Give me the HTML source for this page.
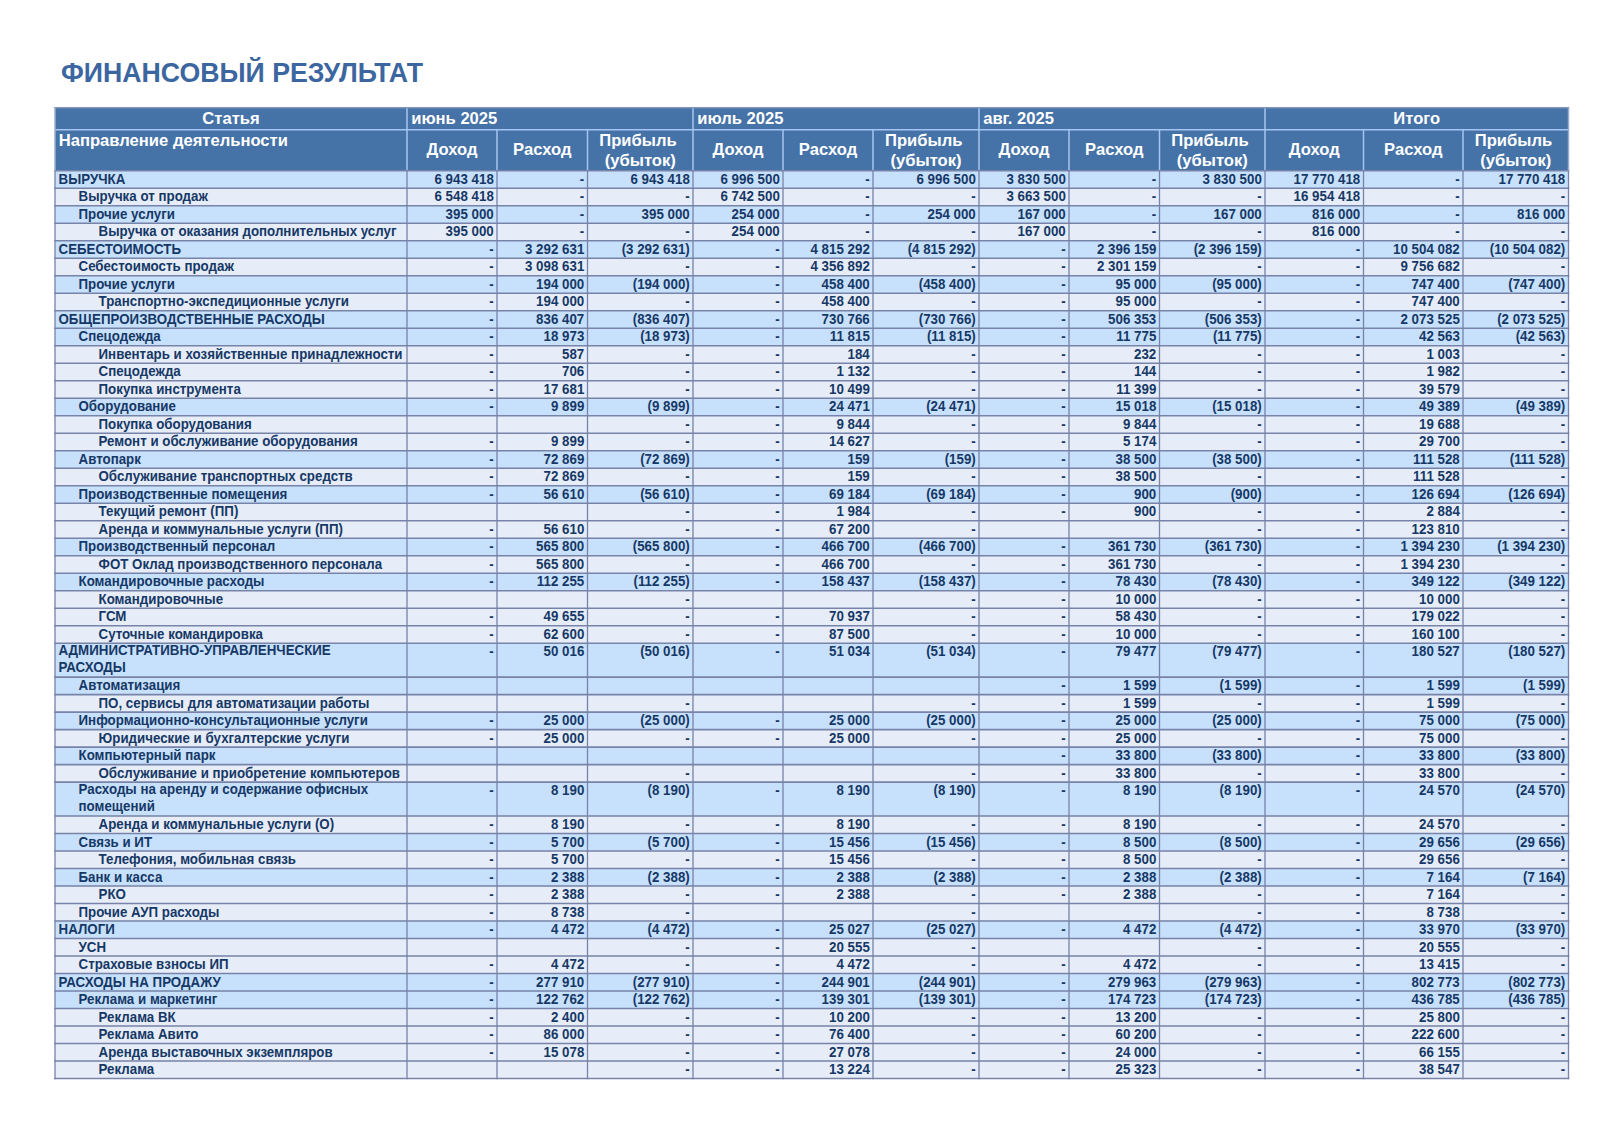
<!DOCTYPE html><html><head><meta charset="utf-8"><style>
html,body{margin:0;padding:0;background:#fff;}
body{width:1622px;height:1142px;position:relative;overflow:hidden;font-family:"Liberation Sans",sans-serif;font-weight:bold;}
.a{position:absolute;}
.t{position:absolute;white-space:nowrap;color:#163866;font-size:13.33px;line-height:17.5px;transform:scaleY(1.03);transform-origin:0 13.4px;}
.r{text-align:right;}
.h{position:absolute;white-space:nowrap;color:#fff;font-size:16.6px;line-height:19px;}

</style></head><body>
<div class="a" style="left:61px;top:55.9px;font-size:26.7px;line-height:34px;color:#3b66a0;white-space:nowrap;transform:scaleY(1.05);transform-origin:0 26.25px">ФИНАНСОВЫЙ РЕЗУЛЬТАТ</div>
<svg class="a" style="left:0;top:0" width="1622" height="1142" viewBox="0 0 1622 1142" shape-rendering="geometricPrecision"><rect x="55" y="107.7" width="1513.5" height="63" fill="#4572a7"/><rect x="55" y="170.7" width="1513.5" height="17.5" fill="#c7e0fc"/><rect x="55" y="188.2" width="1513.5" height="17.5" fill="#e6edf8"/><rect x="55" y="205.7" width="1513.5" height="17.5" fill="#c7e0fc"/><rect x="55" y="223.2" width="1513.5" height="17.5" fill="#e6edf8"/><rect x="55" y="240.7" width="1513.5" height="17.5" fill="#c7e0fc"/><rect x="55" y="258.2" width="1513.5" height="17.5" fill="#e6edf8"/><rect x="55" y="275.7" width="1513.5" height="17.5" fill="#c7e0fc"/><rect x="55" y="293.2" width="1513.5" height="17.5" fill="#e6edf8"/><rect x="55" y="310.7" width="1513.5" height="17.5" fill="#c7e0fc"/><rect x="55" y="328.2" width="1513.5" height="17.5" fill="#c7e0fc"/><rect x="55" y="345.7" width="1513.5" height="17.5" fill="#e6edf8"/><rect x="55" y="363.2" width="1513.5" height="17.5" fill="#e6edf8"/><rect x="55" y="380.7" width="1513.5" height="17.5" fill="#e6edf8"/><rect x="55" y="398.2" width="1513.5" height="17.5" fill="#c7e0fc"/><rect x="55" y="415.7" width="1513.5" height="17.5" fill="#e6edf8"/><rect x="55" y="433.2" width="1513.5" height="17.5" fill="#e6edf8"/><rect x="55" y="450.7" width="1513.5" height="17.5" fill="#c7e0fc"/><rect x="55" y="468.2" width="1513.5" height="17.5" fill="#e6edf8"/><rect x="55" y="485.7" width="1513.5" height="17.5" fill="#c7e0fc"/><rect x="55" y="503.2" width="1513.5" height="17.5" fill="#e6edf8"/><rect x="55" y="520.7" width="1513.5" height="17.5" fill="#e6edf8"/><rect x="55" y="538.2" width="1513.5" height="17.5" fill="#c7e0fc"/><rect x="55" y="555.7" width="1513.5" height="17.5" fill="#e6edf8"/><rect x="55" y="573.2" width="1513.5" height="17.5" fill="#c7e0fc"/><rect x="55" y="590.7" width="1513.5" height="17.5" fill="#e6edf8"/><rect x="55" y="608.2" width="1513.5" height="17.5" fill="#e6edf8"/><rect x="55" y="625.7" width="1513.5" height="17.5" fill="#e6edf8"/><rect x="55" y="643.2" width="1513.5" height="33.9" fill="#c7e0fc"/><rect x="55" y="677.1" width="1513.5" height="17.5" fill="#c7e0fc"/><rect x="55" y="694.6" width="1513.5" height="17.5" fill="#e6edf8"/><rect x="55" y="712.1" width="1513.5" height="17.5" fill="#c7e0fc"/><rect x="55" y="729.6" width="1513.5" height="17.5" fill="#e6edf8"/><rect x="55" y="747.1" width="1513.5" height="17.5" fill="#c7e0fc"/><rect x="55" y="764.6" width="1513.5" height="17.5" fill="#e6edf8"/><rect x="55" y="782.1" width="1513.5" height="33.9" fill="#c7e0fc"/><rect x="55" y="816" width="1513.5" height="17.5" fill="#e6edf8"/><rect x="55" y="833.5" width="1513.5" height="17.5" fill="#c7e0fc"/><rect x="55" y="851" width="1513.5" height="17.5" fill="#e6edf8"/><rect x="55" y="868.5" width="1513.5" height="17.5" fill="#c7e0fc"/><rect x="55" y="886" width="1513.5" height="17.5" fill="#e6edf8"/><rect x="55" y="903.5" width="1513.5" height="17.5" fill="#e6edf8"/><rect x="55" y="921" width="1513.5" height="17.5" fill="#c7e0fc"/><rect x="55" y="938.5" width="1513.5" height="17.5" fill="#e6edf8"/><rect x="55" y="956" width="1513.5" height="17.5" fill="#e6edf8"/><rect x="55" y="973.5" width="1513.5" height="17.5" fill="#c7e0fc"/><rect x="55" y="991" width="1513.5" height="17.5" fill="#c7e0fc"/><rect x="55" y="1008.5" width="1513.5" height="17.5" fill="#e6edf8"/><rect x="55" y="1026" width="1513.5" height="17.5" fill="#e6edf8"/><rect x="55" y="1043.5" width="1513.5" height="17.5" fill="#e6edf8"/><rect x="55" y="1061" width="1513.5" height="17.5" fill="#e6edf8"/><path d="M55 129.7H1568.5M407 107.7V129.7M693 107.7V129.7M979 107.7V129.7M1265 107.7V129.7M407 129.7V170.7M497 129.7V170.7M587.5 129.7V170.7M693 129.7V170.7M783 129.7V170.7M873 129.7V170.7M979 129.7V170.7M1069 129.7V170.7M1159.5 129.7V170.7M1265 129.7V170.7M1363.5 129.7V170.7M1463 129.7V170.7" stroke="#a6c5f2" stroke-width="1.5" fill="none"/><path d="M54.2 170.7H1569.3M54.2 188.2H1569.3M54.2 205.7H1569.3M54.2 223.2H1569.3M54.2 240.7H1569.3M54.2 258.2H1569.3M54.2 275.7H1569.3M54.2 293.2H1569.3M54.2 310.7H1569.3M54.2 328.2H1569.3M54.2 345.7H1569.3M54.2 363.2H1569.3M54.2 380.7H1569.3M54.2 398.2H1569.3M54.2 415.7H1569.3M54.2 433.2H1569.3M54.2 450.7H1569.3M54.2 468.2H1569.3M54.2 485.7H1569.3M54.2 503.2H1569.3M54.2 520.7H1569.3M54.2 538.2H1569.3M54.2 555.7H1569.3M54.2 573.2H1569.3M54.2 590.7H1569.3M54.2 608.2H1569.3M54.2 625.7H1569.3M54.2 643.2H1569.3M54.2 677.1H1569.3M54.2 694.6H1569.3M54.2 712.1H1569.3M54.2 729.6H1569.3M54.2 747.1H1569.3M54.2 764.6H1569.3M54.2 782.1H1569.3M54.2 816H1569.3M54.2 833.5H1569.3M54.2 851H1569.3M54.2 868.5H1569.3M54.2 886H1569.3M54.2 903.5H1569.3M54.2 921H1569.3M54.2 938.5H1569.3M54.2 956H1569.3M54.2 973.5H1569.3M54.2 991H1569.3M54.2 1008.5H1569.3M54.2 1026H1569.3M54.2 1043.5H1569.3M54.2 1061H1569.3M54.2 1078.5H1569.3" stroke="#7783a8" stroke-width="1.6" fill="none"/><path d="M55 170.7V1079.3M407 170.7V1079.3M497 170.7V1079.3M587.5 170.7V1079.3M693 170.7V1079.3M783 170.7V1079.3M873 170.7V1079.3M979 170.7V1079.3M1069 170.7V1079.3M1159.5 170.7V1079.3M1265 170.7V1079.3M1363.5 170.7V1079.3M1463 170.7V1079.3M1568.5 170.7V1079.3" stroke="#7783a8" stroke-width="1.3" fill="none"/><path d="M54.3 107.7H1569.2" stroke="#7f93b8" stroke-width="1.5" fill="none"/><path d="M55 107.7V170.7M1568.5 107.7V170.7" stroke="#9aaed0" stroke-width="1.5" fill="none"/></svg>
<div class="h" style="left:55px;top:109.2px;width:352px;text-align:center">Статья</div>
<div class="h" style="left:411.2px;top:109.2px">июнь 2025</div>
<div class="h" style="left:697.2px;top:109.2px">июль 2025</div>
<div class="h" style="left:983.2px;top:109.2px">авг. 2025</div>
<div class="h" style="left:1265px;top:109.2px;width:303.5px;text-align:center">Итого</div>
<div class="h" style="left:58.7px;top:131.2px">Направление деятельности</div>
<div class="h" style="left:407px;top:140.1px;width:90px;text-align:center">Доход</div>
<div class="h" style="left:497px;top:140.1px;width:90.5px;text-align:center">Расход</div>
<div class="h" style="left:587.5px;top:131.1px;width:105.5px;text-align:center;line-height:19.8px">Прибыль&nbsp;<br>(убыток)</div>
<div class="h" style="left:693px;top:140.1px;width:90px;text-align:center">Доход</div>
<div class="h" style="left:783px;top:140.1px;width:90px;text-align:center">Расход</div>
<div class="h" style="left:873px;top:131.1px;width:106px;text-align:center;line-height:19.8px">Прибыль&nbsp;<br>(убыток)</div>
<div class="h" style="left:979px;top:140.1px;width:90px;text-align:center">Доход</div>
<div class="h" style="left:1069px;top:140.1px;width:90.5px;text-align:center">Расход</div>
<div class="h" style="left:1159.5px;top:131.1px;width:105.5px;text-align:center;line-height:19.8px">Прибыль&nbsp;<br>(убыток)</div>
<div class="h" style="left:1265px;top:140.1px;width:98.5px;text-align:center">Доход</div>
<div class="h" style="left:1363.5px;top:140.1px;width:99.5px;text-align:center">Расход</div>
<div class="h" style="left:1463px;top:131.1px;width:105.5px;text-align:center;line-height:19.8px">Прибыль&nbsp;<br>(убыток)</div>
<div class="t" style="left:58.5px;top:170.7px;line-height:17.5px">ВЫРУЧКА</div>
<div class="t r" style="left:407px;top:170.7px;width:86.8px">6 943 418</div>
<div class="t r" style="left:497px;top:170.7px;width:87.3px">-</div>
<div class="t r" style="left:587.5px;top:170.7px;width:102.3px">6 943 418</div>
<div class="t r" style="left:693px;top:170.7px;width:86.8px">6 996 500</div>
<div class="t r" style="left:783px;top:170.7px;width:86.8px">-</div>
<div class="t r" style="left:873px;top:170.7px;width:102.8px">6 996 500</div>
<div class="t r" style="left:979px;top:170.7px;width:86.8px">3 830 500</div>
<div class="t r" style="left:1069px;top:170.7px;width:87.3px">-</div>
<div class="t r" style="left:1159.5px;top:170.7px;width:102.3px">3 830 500</div>
<div class="t r" style="left:1265px;top:170.7px;width:95.3px">17 770 418</div>
<div class="t r" style="left:1363.5px;top:170.7px;width:96.3px">-</div>
<div class="t r" style="left:1463px;top:170.7px;width:102.3px">17 770 418</div>
<div class="t" style="left:78.5px;top:188.2px;line-height:17.5px">Выручка от продаж</div>
<div class="t r" style="left:407px;top:188.2px;width:86.8px">6 548 418</div>
<div class="t r" style="left:497px;top:188.2px;width:87.3px">-</div>
<div class="t r" style="left:587.5px;top:188.2px;width:102.3px">-</div>
<div class="t r" style="left:693px;top:188.2px;width:86.8px">6 742 500</div>
<div class="t r" style="left:783px;top:188.2px;width:86.8px">-</div>
<div class="t r" style="left:873px;top:188.2px;width:102.8px">-</div>
<div class="t r" style="left:979px;top:188.2px;width:86.8px">3 663 500</div>
<div class="t r" style="left:1069px;top:188.2px;width:87.3px">-</div>
<div class="t r" style="left:1159.5px;top:188.2px;width:102.3px">-</div>
<div class="t r" style="left:1265px;top:188.2px;width:95.3px">16 954 418</div>
<div class="t r" style="left:1363.5px;top:188.2px;width:96.3px">-</div>
<div class="t r" style="left:1463px;top:188.2px;width:102.3px">-</div>
<div class="t" style="left:78.5px;top:205.7px;line-height:17.5px">Прочие услуги</div>
<div class="t r" style="left:407px;top:205.7px;width:86.8px">395 000</div>
<div class="t r" style="left:497px;top:205.7px;width:87.3px">-</div>
<div class="t r" style="left:587.5px;top:205.7px;width:102.3px">395 000</div>
<div class="t r" style="left:693px;top:205.7px;width:86.8px">254 000</div>
<div class="t r" style="left:783px;top:205.7px;width:86.8px">-</div>
<div class="t r" style="left:873px;top:205.7px;width:102.8px">254 000</div>
<div class="t r" style="left:979px;top:205.7px;width:86.8px">167 000</div>
<div class="t r" style="left:1069px;top:205.7px;width:87.3px">-</div>
<div class="t r" style="left:1159.5px;top:205.7px;width:102.3px">167 000</div>
<div class="t r" style="left:1265px;top:205.7px;width:95.3px">816 000</div>
<div class="t r" style="left:1363.5px;top:205.7px;width:96.3px">-</div>
<div class="t r" style="left:1463px;top:205.7px;width:102.3px">816 000</div>
<div class="t" style="left:98.5px;top:223.2px;line-height:17.5px">Выручка от оказания дополнительных услуг</div>
<div class="t r" style="left:407px;top:223.2px;width:86.8px">395 000</div>
<div class="t r" style="left:497px;top:223.2px;width:87.3px">-</div>
<div class="t r" style="left:587.5px;top:223.2px;width:102.3px">-</div>
<div class="t r" style="left:693px;top:223.2px;width:86.8px">254 000</div>
<div class="t r" style="left:783px;top:223.2px;width:86.8px">-</div>
<div class="t r" style="left:873px;top:223.2px;width:102.8px">-</div>
<div class="t r" style="left:979px;top:223.2px;width:86.8px">167 000</div>
<div class="t r" style="left:1069px;top:223.2px;width:87.3px">-</div>
<div class="t r" style="left:1159.5px;top:223.2px;width:102.3px">-</div>
<div class="t r" style="left:1265px;top:223.2px;width:95.3px">816 000</div>
<div class="t r" style="left:1363.5px;top:223.2px;width:96.3px">-</div>
<div class="t r" style="left:1463px;top:223.2px;width:102.3px">-</div>
<div class="t" style="left:58.5px;top:240.7px;line-height:17.5px">СЕБЕСТОИМОСТЬ</div>
<div class="t r" style="left:407px;top:240.7px;width:86.8px">-</div>
<div class="t r" style="left:497px;top:240.7px;width:87.3px">3 292 631</div>
<div class="t r" style="left:587.5px;top:240.7px;width:102.3px">(3 292 631)</div>
<div class="t r" style="left:693px;top:240.7px;width:86.8px">-</div>
<div class="t r" style="left:783px;top:240.7px;width:86.8px">4 815 292</div>
<div class="t r" style="left:873px;top:240.7px;width:102.8px">(4 815 292)</div>
<div class="t r" style="left:979px;top:240.7px;width:86.8px">-</div>
<div class="t r" style="left:1069px;top:240.7px;width:87.3px">2 396 159</div>
<div class="t r" style="left:1159.5px;top:240.7px;width:102.3px">(2 396 159)</div>
<div class="t r" style="left:1265px;top:240.7px;width:95.3px">-</div>
<div class="t r" style="left:1363.5px;top:240.7px;width:96.3px">10 504 082</div>
<div class="t r" style="left:1463px;top:240.7px;width:102.3px">(10 504 082)</div>
<div class="t" style="left:78.5px;top:258.2px;line-height:17.5px">Себестоимость продаж</div>
<div class="t r" style="left:407px;top:258.2px;width:86.8px">-</div>
<div class="t r" style="left:497px;top:258.2px;width:87.3px">3 098 631</div>
<div class="t r" style="left:587.5px;top:258.2px;width:102.3px">-</div>
<div class="t r" style="left:693px;top:258.2px;width:86.8px">-</div>
<div class="t r" style="left:783px;top:258.2px;width:86.8px">4 356 892</div>
<div class="t r" style="left:873px;top:258.2px;width:102.8px">-</div>
<div class="t r" style="left:979px;top:258.2px;width:86.8px">-</div>
<div class="t r" style="left:1069px;top:258.2px;width:87.3px">2 301 159</div>
<div class="t r" style="left:1159.5px;top:258.2px;width:102.3px">-</div>
<div class="t r" style="left:1265px;top:258.2px;width:95.3px">-</div>
<div class="t r" style="left:1363.5px;top:258.2px;width:96.3px">9 756 682</div>
<div class="t r" style="left:1463px;top:258.2px;width:102.3px">-</div>
<div class="t" style="left:78.5px;top:275.7px;line-height:17.5px">Прочие услуги</div>
<div class="t r" style="left:407px;top:275.7px;width:86.8px">-</div>
<div class="t r" style="left:497px;top:275.7px;width:87.3px">194 000</div>
<div class="t r" style="left:587.5px;top:275.7px;width:102.3px">(194 000)</div>
<div class="t r" style="left:693px;top:275.7px;width:86.8px">-</div>
<div class="t r" style="left:783px;top:275.7px;width:86.8px">458 400</div>
<div class="t r" style="left:873px;top:275.7px;width:102.8px">(458 400)</div>
<div class="t r" style="left:979px;top:275.7px;width:86.8px">-</div>
<div class="t r" style="left:1069px;top:275.7px;width:87.3px">95 000</div>
<div class="t r" style="left:1159.5px;top:275.7px;width:102.3px">(95 000)</div>
<div class="t r" style="left:1265px;top:275.7px;width:95.3px">-</div>
<div class="t r" style="left:1363.5px;top:275.7px;width:96.3px">747 400</div>
<div class="t r" style="left:1463px;top:275.7px;width:102.3px">(747 400)</div>
<div class="t" style="left:98.5px;top:293.2px;line-height:17.5px">Транспортно-экспедиционные услуги</div>
<div class="t r" style="left:407px;top:293.2px;width:86.8px">-</div>
<div class="t r" style="left:497px;top:293.2px;width:87.3px">194 000</div>
<div class="t r" style="left:587.5px;top:293.2px;width:102.3px">-</div>
<div class="t r" style="left:693px;top:293.2px;width:86.8px">-</div>
<div class="t r" style="left:783px;top:293.2px;width:86.8px">458 400</div>
<div class="t r" style="left:873px;top:293.2px;width:102.8px">-</div>
<div class="t r" style="left:979px;top:293.2px;width:86.8px">-</div>
<div class="t r" style="left:1069px;top:293.2px;width:87.3px">95 000</div>
<div class="t r" style="left:1159.5px;top:293.2px;width:102.3px">-</div>
<div class="t r" style="left:1265px;top:293.2px;width:95.3px">-</div>
<div class="t r" style="left:1363.5px;top:293.2px;width:96.3px">747 400</div>
<div class="t r" style="left:1463px;top:293.2px;width:102.3px">-</div>
<div class="t" style="left:58.5px;top:310.7px;line-height:17.5px">ОБЩЕПРОИЗВОДСТВЕННЫЕ РАСХОДЫ</div>
<div class="t r" style="left:407px;top:310.7px;width:86.8px">-</div>
<div class="t r" style="left:497px;top:310.7px;width:87.3px">836 407</div>
<div class="t r" style="left:587.5px;top:310.7px;width:102.3px">(836 407)</div>
<div class="t r" style="left:693px;top:310.7px;width:86.8px">-</div>
<div class="t r" style="left:783px;top:310.7px;width:86.8px">730 766</div>
<div class="t r" style="left:873px;top:310.7px;width:102.8px">(730 766)</div>
<div class="t r" style="left:979px;top:310.7px;width:86.8px">-</div>
<div class="t r" style="left:1069px;top:310.7px;width:87.3px">506 353</div>
<div class="t r" style="left:1159.5px;top:310.7px;width:102.3px">(506 353)</div>
<div class="t r" style="left:1265px;top:310.7px;width:95.3px">-</div>
<div class="t r" style="left:1363.5px;top:310.7px;width:96.3px">2 073 525</div>
<div class="t r" style="left:1463px;top:310.7px;width:102.3px">(2 073 525)</div>
<div class="t" style="left:78.5px;top:328.2px;line-height:17.5px">Спецодежда</div>
<div class="t r" style="left:407px;top:328.2px;width:86.8px">-</div>
<div class="t r" style="left:497px;top:328.2px;width:87.3px">18 973</div>
<div class="t r" style="left:587.5px;top:328.2px;width:102.3px">(18 973)</div>
<div class="t r" style="left:693px;top:328.2px;width:86.8px">-</div>
<div class="t r" style="left:783px;top:328.2px;width:86.8px">11 815</div>
<div class="t r" style="left:873px;top:328.2px;width:102.8px">(11 815)</div>
<div class="t r" style="left:979px;top:328.2px;width:86.8px">-</div>
<div class="t r" style="left:1069px;top:328.2px;width:87.3px">11 775</div>
<div class="t r" style="left:1159.5px;top:328.2px;width:102.3px">(11 775)</div>
<div class="t r" style="left:1265px;top:328.2px;width:95.3px">-</div>
<div class="t r" style="left:1363.5px;top:328.2px;width:96.3px">42 563</div>
<div class="t r" style="left:1463px;top:328.2px;width:102.3px">(42 563)</div>
<div class="t" style="left:98.5px;top:345.7px;line-height:17.5px">Инвентарь и хозяйственные принадлежности</div>
<div class="t r" style="left:407px;top:345.7px;width:86.8px">-</div>
<div class="t r" style="left:497px;top:345.7px;width:87.3px">587</div>
<div class="t r" style="left:587.5px;top:345.7px;width:102.3px">-</div>
<div class="t r" style="left:693px;top:345.7px;width:86.8px">-</div>
<div class="t r" style="left:783px;top:345.7px;width:86.8px">184</div>
<div class="t r" style="left:873px;top:345.7px;width:102.8px">-</div>
<div class="t r" style="left:979px;top:345.7px;width:86.8px">-</div>
<div class="t r" style="left:1069px;top:345.7px;width:87.3px">232</div>
<div class="t r" style="left:1159.5px;top:345.7px;width:102.3px">-</div>
<div class="t r" style="left:1265px;top:345.7px;width:95.3px">-</div>
<div class="t r" style="left:1363.5px;top:345.7px;width:96.3px">1 003</div>
<div class="t r" style="left:1463px;top:345.7px;width:102.3px">-</div>
<div class="t" style="left:98.5px;top:363.2px;line-height:17.5px">Спецодежда</div>
<div class="t r" style="left:407px;top:363.2px;width:86.8px">-</div>
<div class="t r" style="left:497px;top:363.2px;width:87.3px">706</div>
<div class="t r" style="left:587.5px;top:363.2px;width:102.3px">-</div>
<div class="t r" style="left:693px;top:363.2px;width:86.8px">-</div>
<div class="t r" style="left:783px;top:363.2px;width:86.8px">1 132</div>
<div class="t r" style="left:873px;top:363.2px;width:102.8px">-</div>
<div class="t r" style="left:979px;top:363.2px;width:86.8px">-</div>
<div class="t r" style="left:1069px;top:363.2px;width:87.3px">144</div>
<div class="t r" style="left:1159.5px;top:363.2px;width:102.3px">-</div>
<div class="t r" style="left:1265px;top:363.2px;width:95.3px">-</div>
<div class="t r" style="left:1363.5px;top:363.2px;width:96.3px">1 982</div>
<div class="t r" style="left:1463px;top:363.2px;width:102.3px">-</div>
<div class="t" style="left:98.5px;top:380.7px;line-height:17.5px">Покупка инструмента</div>
<div class="t r" style="left:407px;top:380.7px;width:86.8px">-</div>
<div class="t r" style="left:497px;top:380.7px;width:87.3px">17 681</div>
<div class="t r" style="left:587.5px;top:380.7px;width:102.3px">-</div>
<div class="t r" style="left:693px;top:380.7px;width:86.8px">-</div>
<div class="t r" style="left:783px;top:380.7px;width:86.8px">10 499</div>
<div class="t r" style="left:873px;top:380.7px;width:102.8px">-</div>
<div class="t r" style="left:979px;top:380.7px;width:86.8px">-</div>
<div class="t r" style="left:1069px;top:380.7px;width:87.3px">11 399</div>
<div class="t r" style="left:1159.5px;top:380.7px;width:102.3px">-</div>
<div class="t r" style="left:1265px;top:380.7px;width:95.3px">-</div>
<div class="t r" style="left:1363.5px;top:380.7px;width:96.3px">39 579</div>
<div class="t r" style="left:1463px;top:380.7px;width:102.3px">-</div>
<div class="t" style="left:78.5px;top:398.2px;line-height:17.5px">Оборудование</div>
<div class="t r" style="left:407px;top:398.2px;width:86.8px">-</div>
<div class="t r" style="left:497px;top:398.2px;width:87.3px">9 899</div>
<div class="t r" style="left:587.5px;top:398.2px;width:102.3px">(9 899)</div>
<div class="t r" style="left:693px;top:398.2px;width:86.8px">-</div>
<div class="t r" style="left:783px;top:398.2px;width:86.8px">24 471</div>
<div class="t r" style="left:873px;top:398.2px;width:102.8px">(24 471)</div>
<div class="t r" style="left:979px;top:398.2px;width:86.8px">-</div>
<div class="t r" style="left:1069px;top:398.2px;width:87.3px">15 018</div>
<div class="t r" style="left:1159.5px;top:398.2px;width:102.3px">(15 018)</div>
<div class="t r" style="left:1265px;top:398.2px;width:95.3px">-</div>
<div class="t r" style="left:1363.5px;top:398.2px;width:96.3px">49 389</div>
<div class="t r" style="left:1463px;top:398.2px;width:102.3px">(49 389)</div>
<div class="t" style="left:98.5px;top:415.7px;line-height:17.5px">Покупка оборудования</div>
<div class="t r" style="left:587.5px;top:415.7px;width:102.3px">-</div>
<div class="t r" style="left:693px;top:415.7px;width:86.8px">-</div>
<div class="t r" style="left:783px;top:415.7px;width:86.8px">9 844</div>
<div class="t r" style="left:873px;top:415.7px;width:102.8px">-</div>
<div class="t r" style="left:979px;top:415.7px;width:86.8px">-</div>
<div class="t r" style="left:1069px;top:415.7px;width:87.3px">9 844</div>
<div class="t r" style="left:1159.5px;top:415.7px;width:102.3px">-</div>
<div class="t r" style="left:1265px;top:415.7px;width:95.3px">-</div>
<div class="t r" style="left:1363.5px;top:415.7px;width:96.3px">19 688</div>
<div class="t r" style="left:1463px;top:415.7px;width:102.3px">-</div>
<div class="t" style="left:98.5px;top:433.2px;line-height:17.5px">Ремонт и обслуживание оборудования</div>
<div class="t r" style="left:407px;top:433.2px;width:86.8px">-</div>
<div class="t r" style="left:497px;top:433.2px;width:87.3px">9 899</div>
<div class="t r" style="left:587.5px;top:433.2px;width:102.3px">-</div>
<div class="t r" style="left:693px;top:433.2px;width:86.8px">-</div>
<div class="t r" style="left:783px;top:433.2px;width:86.8px">14 627</div>
<div class="t r" style="left:873px;top:433.2px;width:102.8px">-</div>
<div class="t r" style="left:979px;top:433.2px;width:86.8px">-</div>
<div class="t r" style="left:1069px;top:433.2px;width:87.3px">5 174</div>
<div class="t r" style="left:1159.5px;top:433.2px;width:102.3px">-</div>
<div class="t r" style="left:1265px;top:433.2px;width:95.3px">-</div>
<div class="t r" style="left:1363.5px;top:433.2px;width:96.3px">29 700</div>
<div class="t r" style="left:1463px;top:433.2px;width:102.3px">-</div>
<div class="t" style="left:78.5px;top:450.7px;line-height:17.5px">Автопарк</div>
<div class="t r" style="left:407px;top:450.7px;width:86.8px">-</div>
<div class="t r" style="left:497px;top:450.7px;width:87.3px">72 869</div>
<div class="t r" style="left:587.5px;top:450.7px;width:102.3px">(72 869)</div>
<div class="t r" style="left:693px;top:450.7px;width:86.8px">-</div>
<div class="t r" style="left:783px;top:450.7px;width:86.8px">159</div>
<div class="t r" style="left:873px;top:450.7px;width:102.8px">(159)</div>
<div class="t r" style="left:979px;top:450.7px;width:86.8px">-</div>
<div class="t r" style="left:1069px;top:450.7px;width:87.3px">38 500</div>
<div class="t r" style="left:1159.5px;top:450.7px;width:102.3px">(38 500)</div>
<div class="t r" style="left:1265px;top:450.7px;width:95.3px">-</div>
<div class="t r" style="left:1363.5px;top:450.7px;width:96.3px">111 528</div>
<div class="t r" style="left:1463px;top:450.7px;width:102.3px">(111 528)</div>
<div class="t" style="left:98.5px;top:468.2px;line-height:17.5px">Обслуживание транспортных средств</div>
<div class="t r" style="left:407px;top:468.2px;width:86.8px">-</div>
<div class="t r" style="left:497px;top:468.2px;width:87.3px">72 869</div>
<div class="t r" style="left:587.5px;top:468.2px;width:102.3px">-</div>
<div class="t r" style="left:693px;top:468.2px;width:86.8px">-</div>
<div class="t r" style="left:783px;top:468.2px;width:86.8px">159</div>
<div class="t r" style="left:873px;top:468.2px;width:102.8px">-</div>
<div class="t r" style="left:979px;top:468.2px;width:86.8px">-</div>
<div class="t r" style="left:1069px;top:468.2px;width:87.3px">38 500</div>
<div class="t r" style="left:1159.5px;top:468.2px;width:102.3px">-</div>
<div class="t r" style="left:1265px;top:468.2px;width:95.3px">-</div>
<div class="t r" style="left:1363.5px;top:468.2px;width:96.3px">111 528</div>
<div class="t r" style="left:1463px;top:468.2px;width:102.3px">-</div>
<div class="t" style="left:78.5px;top:485.7px;line-height:17.5px">Производственные помещения</div>
<div class="t r" style="left:407px;top:485.7px;width:86.8px">-</div>
<div class="t r" style="left:497px;top:485.7px;width:87.3px">56 610</div>
<div class="t r" style="left:587.5px;top:485.7px;width:102.3px">(56 610)</div>
<div class="t r" style="left:693px;top:485.7px;width:86.8px">-</div>
<div class="t r" style="left:783px;top:485.7px;width:86.8px">69 184</div>
<div class="t r" style="left:873px;top:485.7px;width:102.8px">(69 184)</div>
<div class="t r" style="left:979px;top:485.7px;width:86.8px">-</div>
<div class="t r" style="left:1069px;top:485.7px;width:87.3px">900</div>
<div class="t r" style="left:1159.5px;top:485.7px;width:102.3px">(900)</div>
<div class="t r" style="left:1265px;top:485.7px;width:95.3px">-</div>
<div class="t r" style="left:1363.5px;top:485.7px;width:96.3px">126 694</div>
<div class="t r" style="left:1463px;top:485.7px;width:102.3px">(126 694)</div>
<div class="t" style="left:98.5px;top:503.2px;line-height:17.5px">Текущий ремонт (ПП)</div>
<div class="t r" style="left:587.5px;top:503.2px;width:102.3px">-</div>
<div class="t r" style="left:693px;top:503.2px;width:86.8px">-</div>
<div class="t r" style="left:783px;top:503.2px;width:86.8px">1 984</div>
<div class="t r" style="left:873px;top:503.2px;width:102.8px">-</div>
<div class="t r" style="left:979px;top:503.2px;width:86.8px">-</div>
<div class="t r" style="left:1069px;top:503.2px;width:87.3px">900</div>
<div class="t r" style="left:1159.5px;top:503.2px;width:102.3px">-</div>
<div class="t r" style="left:1265px;top:503.2px;width:95.3px">-</div>
<div class="t r" style="left:1363.5px;top:503.2px;width:96.3px">2 884</div>
<div class="t r" style="left:1463px;top:503.2px;width:102.3px">-</div>
<div class="t" style="left:98.5px;top:520.7px;line-height:17.5px">Аренда и коммунальные услуги (ПП)</div>
<div class="t r" style="left:407px;top:520.7px;width:86.8px">-</div>
<div class="t r" style="left:497px;top:520.7px;width:87.3px">56 610</div>
<div class="t r" style="left:587.5px;top:520.7px;width:102.3px">-</div>
<div class="t r" style="left:693px;top:520.7px;width:86.8px">-</div>
<div class="t r" style="left:783px;top:520.7px;width:86.8px">67 200</div>
<div class="t r" style="left:873px;top:520.7px;width:102.8px">-</div>
<div class="t r" style="left:1159.5px;top:520.7px;width:102.3px">-</div>
<div class="t r" style="left:1265px;top:520.7px;width:95.3px">-</div>
<div class="t r" style="left:1363.5px;top:520.7px;width:96.3px">123 810</div>
<div class="t r" style="left:1463px;top:520.7px;width:102.3px">-</div>
<div class="t" style="left:78.5px;top:538.2px;line-height:17.5px">Производственный персонал</div>
<div class="t r" style="left:407px;top:538.2px;width:86.8px">-</div>
<div class="t r" style="left:497px;top:538.2px;width:87.3px">565 800</div>
<div class="t r" style="left:587.5px;top:538.2px;width:102.3px">(565 800)</div>
<div class="t r" style="left:693px;top:538.2px;width:86.8px">-</div>
<div class="t r" style="left:783px;top:538.2px;width:86.8px">466 700</div>
<div class="t r" style="left:873px;top:538.2px;width:102.8px">(466 700)</div>
<div class="t r" style="left:979px;top:538.2px;width:86.8px">-</div>
<div class="t r" style="left:1069px;top:538.2px;width:87.3px">361 730</div>
<div class="t r" style="left:1159.5px;top:538.2px;width:102.3px">(361 730)</div>
<div class="t r" style="left:1265px;top:538.2px;width:95.3px">-</div>
<div class="t r" style="left:1363.5px;top:538.2px;width:96.3px">1 394 230</div>
<div class="t r" style="left:1463px;top:538.2px;width:102.3px">(1 394 230)</div>
<div class="t" style="left:98.5px;top:555.7px;line-height:17.5px">ФОТ Оклад производственного персонала</div>
<div class="t r" style="left:407px;top:555.7px;width:86.8px">-</div>
<div class="t r" style="left:497px;top:555.7px;width:87.3px">565 800</div>
<div class="t r" style="left:587.5px;top:555.7px;width:102.3px">-</div>
<div class="t r" style="left:693px;top:555.7px;width:86.8px">-</div>
<div class="t r" style="left:783px;top:555.7px;width:86.8px">466 700</div>
<div class="t r" style="left:873px;top:555.7px;width:102.8px">-</div>
<div class="t r" style="left:979px;top:555.7px;width:86.8px">-</div>
<div class="t r" style="left:1069px;top:555.7px;width:87.3px">361 730</div>
<div class="t r" style="left:1159.5px;top:555.7px;width:102.3px">-</div>
<div class="t r" style="left:1265px;top:555.7px;width:95.3px">-</div>
<div class="t r" style="left:1363.5px;top:555.7px;width:96.3px">1 394 230</div>
<div class="t r" style="left:1463px;top:555.7px;width:102.3px">-</div>
<div class="t" style="left:78.5px;top:573.2px;line-height:17.5px">Командировочные расходы</div>
<div class="t r" style="left:407px;top:573.2px;width:86.8px">-</div>
<div class="t r" style="left:497px;top:573.2px;width:87.3px">112 255</div>
<div class="t r" style="left:587.5px;top:573.2px;width:102.3px">(112 255)</div>
<div class="t r" style="left:693px;top:573.2px;width:86.8px">-</div>
<div class="t r" style="left:783px;top:573.2px;width:86.8px">158 437</div>
<div class="t r" style="left:873px;top:573.2px;width:102.8px">(158 437)</div>
<div class="t r" style="left:979px;top:573.2px;width:86.8px">-</div>
<div class="t r" style="left:1069px;top:573.2px;width:87.3px">78 430</div>
<div class="t r" style="left:1159.5px;top:573.2px;width:102.3px">(78 430)</div>
<div class="t r" style="left:1265px;top:573.2px;width:95.3px">-</div>
<div class="t r" style="left:1363.5px;top:573.2px;width:96.3px">349 122</div>
<div class="t r" style="left:1463px;top:573.2px;width:102.3px">(349 122)</div>
<div class="t" style="left:98.5px;top:590.7px;line-height:17.5px">Командировочные</div>
<div class="t r" style="left:587.5px;top:590.7px;width:102.3px">-</div>
<div class="t r" style="left:873px;top:590.7px;width:102.8px">-</div>
<div class="t r" style="left:979px;top:590.7px;width:86.8px">-</div>
<div class="t r" style="left:1069px;top:590.7px;width:87.3px">10 000</div>
<div class="t r" style="left:1159.5px;top:590.7px;width:102.3px">-</div>
<div class="t r" style="left:1265px;top:590.7px;width:95.3px">-</div>
<div class="t r" style="left:1363.5px;top:590.7px;width:96.3px">10 000</div>
<div class="t r" style="left:1463px;top:590.7px;width:102.3px">-</div>
<div class="t" style="left:98.5px;top:608.2px;line-height:17.5px">ГСМ</div>
<div class="t r" style="left:407px;top:608.2px;width:86.8px">-</div>
<div class="t r" style="left:497px;top:608.2px;width:87.3px">49 655</div>
<div class="t r" style="left:587.5px;top:608.2px;width:102.3px">-</div>
<div class="t r" style="left:693px;top:608.2px;width:86.8px">-</div>
<div class="t r" style="left:783px;top:608.2px;width:86.8px">70 937</div>
<div class="t r" style="left:873px;top:608.2px;width:102.8px">-</div>
<div class="t r" style="left:979px;top:608.2px;width:86.8px">-</div>
<div class="t r" style="left:1069px;top:608.2px;width:87.3px">58 430</div>
<div class="t r" style="left:1159.5px;top:608.2px;width:102.3px">-</div>
<div class="t r" style="left:1265px;top:608.2px;width:95.3px">-</div>
<div class="t r" style="left:1363.5px;top:608.2px;width:96.3px">179 022</div>
<div class="t r" style="left:1463px;top:608.2px;width:102.3px">-</div>
<div class="t" style="left:98.5px;top:625.7px;line-height:17.5px">Суточные командировка</div>
<div class="t r" style="left:407px;top:625.7px;width:86.8px">-</div>
<div class="t r" style="left:497px;top:625.7px;width:87.3px">62 600</div>
<div class="t r" style="left:587.5px;top:625.7px;width:102.3px">-</div>
<div class="t r" style="left:693px;top:625.7px;width:86.8px">-</div>
<div class="t r" style="left:783px;top:625.7px;width:86.8px">87 500</div>
<div class="t r" style="left:873px;top:625.7px;width:102.8px">-</div>
<div class="t r" style="left:979px;top:625.7px;width:86.8px">-</div>
<div class="t r" style="left:1069px;top:625.7px;width:87.3px">10 000</div>
<div class="t r" style="left:1159.5px;top:625.7px;width:102.3px">-</div>
<div class="t r" style="left:1265px;top:625.7px;width:95.3px">-</div>
<div class="t r" style="left:1363.5px;top:625.7px;width:96.3px">160 100</div>
<div class="t r" style="left:1463px;top:625.7px;width:102.3px">-</div>
<div class="t" style="left:58.5px;top:643.4px;line-height:16.7px">АДМИНИСТРАТИВНО-УПРАВЛЕНЧЕСКИЕ<br>РАСХОДЫ</div>
<div class="t r" style="left:407px;top:643.2px;width:86.8px">-</div>
<div class="t r" style="left:497px;top:643.2px;width:87.3px">50 016</div>
<div class="t r" style="left:587.5px;top:643.2px;width:102.3px">(50 016)</div>
<div class="t r" style="left:693px;top:643.2px;width:86.8px">-</div>
<div class="t r" style="left:783px;top:643.2px;width:86.8px">51 034</div>
<div class="t r" style="left:873px;top:643.2px;width:102.8px">(51 034)</div>
<div class="t r" style="left:979px;top:643.2px;width:86.8px">-</div>
<div class="t r" style="left:1069px;top:643.2px;width:87.3px">79 477</div>
<div class="t r" style="left:1159.5px;top:643.2px;width:102.3px">(79 477)</div>
<div class="t r" style="left:1265px;top:643.2px;width:95.3px">-</div>
<div class="t r" style="left:1363.5px;top:643.2px;width:96.3px">180 527</div>
<div class="t r" style="left:1463px;top:643.2px;width:102.3px">(180 527)</div>
<div class="t" style="left:78.5px;top:677.1px;line-height:17.5px">Автоматизация</div>
<div class="t r" style="left:979px;top:677.1px;width:86.8px">-</div>
<div class="t r" style="left:1069px;top:677.1px;width:87.3px">1 599</div>
<div class="t r" style="left:1159.5px;top:677.1px;width:102.3px">(1 599)</div>
<div class="t r" style="left:1265px;top:677.1px;width:95.3px">-</div>
<div class="t r" style="left:1363.5px;top:677.1px;width:96.3px">1 599</div>
<div class="t r" style="left:1463px;top:677.1px;width:102.3px">(1 599)</div>
<div class="t" style="left:98.5px;top:694.6px;line-height:17.5px">ПО, сервисы для автоматизации работы</div>
<div class="t r" style="left:587.5px;top:694.6px;width:102.3px">-</div>
<div class="t r" style="left:873px;top:694.6px;width:102.8px">-</div>
<div class="t r" style="left:979px;top:694.6px;width:86.8px">-</div>
<div class="t r" style="left:1069px;top:694.6px;width:87.3px">1 599</div>
<div class="t r" style="left:1159.5px;top:694.6px;width:102.3px">-</div>
<div class="t r" style="left:1265px;top:694.6px;width:95.3px">-</div>
<div class="t r" style="left:1363.5px;top:694.6px;width:96.3px">1 599</div>
<div class="t r" style="left:1463px;top:694.6px;width:102.3px">-</div>
<div class="t" style="left:78.5px;top:712.1px;line-height:17.5px">Информационно-консультационные услуги</div>
<div class="t r" style="left:407px;top:712.1px;width:86.8px">-</div>
<div class="t r" style="left:497px;top:712.1px;width:87.3px">25 000</div>
<div class="t r" style="left:587.5px;top:712.1px;width:102.3px">(25 000)</div>
<div class="t r" style="left:693px;top:712.1px;width:86.8px">-</div>
<div class="t r" style="left:783px;top:712.1px;width:86.8px">25 000</div>
<div class="t r" style="left:873px;top:712.1px;width:102.8px">(25 000)</div>
<div class="t r" style="left:979px;top:712.1px;width:86.8px">-</div>
<div class="t r" style="left:1069px;top:712.1px;width:87.3px">25 000</div>
<div class="t r" style="left:1159.5px;top:712.1px;width:102.3px">(25 000)</div>
<div class="t r" style="left:1265px;top:712.1px;width:95.3px">-</div>
<div class="t r" style="left:1363.5px;top:712.1px;width:96.3px">75 000</div>
<div class="t r" style="left:1463px;top:712.1px;width:102.3px">(75 000)</div>
<div class="t" style="left:98.5px;top:729.6px;line-height:17.5px">Юридические и бухгалтерские услуги</div>
<div class="t r" style="left:407px;top:729.6px;width:86.8px">-</div>
<div class="t r" style="left:497px;top:729.6px;width:87.3px">25 000</div>
<div class="t r" style="left:587.5px;top:729.6px;width:102.3px">-</div>
<div class="t r" style="left:693px;top:729.6px;width:86.8px">-</div>
<div class="t r" style="left:783px;top:729.6px;width:86.8px">25 000</div>
<div class="t r" style="left:873px;top:729.6px;width:102.8px">-</div>
<div class="t r" style="left:979px;top:729.6px;width:86.8px">-</div>
<div class="t r" style="left:1069px;top:729.6px;width:87.3px">25 000</div>
<div class="t r" style="left:1159.5px;top:729.6px;width:102.3px">-</div>
<div class="t r" style="left:1265px;top:729.6px;width:95.3px">-</div>
<div class="t r" style="left:1363.5px;top:729.6px;width:96.3px">75 000</div>
<div class="t r" style="left:1463px;top:729.6px;width:102.3px">-</div>
<div class="t" style="left:78.5px;top:747.1px;line-height:17.5px">Компьютерный парк</div>
<div class="t r" style="left:979px;top:747.1px;width:86.8px">-</div>
<div class="t r" style="left:1069px;top:747.1px;width:87.3px">33 800</div>
<div class="t r" style="left:1159.5px;top:747.1px;width:102.3px">(33 800)</div>
<div class="t r" style="left:1265px;top:747.1px;width:95.3px">-</div>
<div class="t r" style="left:1363.5px;top:747.1px;width:96.3px">33 800</div>
<div class="t r" style="left:1463px;top:747.1px;width:102.3px">(33 800)</div>
<div class="t" style="left:98.5px;top:764.6px;line-height:17.5px">Обслуживание и приобретение компьютеров</div>
<div class="t r" style="left:587.5px;top:764.6px;width:102.3px">-</div>
<div class="t r" style="left:873px;top:764.6px;width:102.8px">-</div>
<div class="t r" style="left:979px;top:764.6px;width:86.8px">-</div>
<div class="t r" style="left:1069px;top:764.6px;width:87.3px">33 800</div>
<div class="t r" style="left:1159.5px;top:764.6px;width:102.3px">-</div>
<div class="t r" style="left:1265px;top:764.6px;width:95.3px">-</div>
<div class="t r" style="left:1363.5px;top:764.6px;width:96.3px">33 800</div>
<div class="t r" style="left:1463px;top:764.6px;width:102.3px">-</div>
<div class="t" style="left:78.5px;top:782.3px;line-height:16.7px">Расходы на аренду и содержание офисных<br>помещений</div>
<div class="t r" style="left:407px;top:782.1px;width:86.8px">-</div>
<div class="t r" style="left:497px;top:782.1px;width:87.3px">8 190</div>
<div class="t r" style="left:587.5px;top:782.1px;width:102.3px">(8 190)</div>
<div class="t r" style="left:693px;top:782.1px;width:86.8px">-</div>
<div class="t r" style="left:783px;top:782.1px;width:86.8px">8 190</div>
<div class="t r" style="left:873px;top:782.1px;width:102.8px">(8 190)</div>
<div class="t r" style="left:979px;top:782.1px;width:86.8px">-</div>
<div class="t r" style="left:1069px;top:782.1px;width:87.3px">8 190</div>
<div class="t r" style="left:1159.5px;top:782.1px;width:102.3px">(8 190)</div>
<div class="t r" style="left:1265px;top:782.1px;width:95.3px">-</div>
<div class="t r" style="left:1363.5px;top:782.1px;width:96.3px">24 570</div>
<div class="t r" style="left:1463px;top:782.1px;width:102.3px">(24 570)</div>
<div class="t" style="left:98.5px;top:816px;line-height:17.5px">Аренда и коммунальные услуги (О)</div>
<div class="t r" style="left:407px;top:816px;width:86.8px">-</div>
<div class="t r" style="left:497px;top:816px;width:87.3px">8 190</div>
<div class="t r" style="left:587.5px;top:816px;width:102.3px">-</div>
<div class="t r" style="left:693px;top:816px;width:86.8px">-</div>
<div class="t r" style="left:783px;top:816px;width:86.8px">8 190</div>
<div class="t r" style="left:873px;top:816px;width:102.8px">-</div>
<div class="t r" style="left:979px;top:816px;width:86.8px">-</div>
<div class="t r" style="left:1069px;top:816px;width:87.3px">8 190</div>
<div class="t r" style="left:1159.5px;top:816px;width:102.3px">-</div>
<div class="t r" style="left:1265px;top:816px;width:95.3px">-</div>
<div class="t r" style="left:1363.5px;top:816px;width:96.3px">24 570</div>
<div class="t r" style="left:1463px;top:816px;width:102.3px">-</div>
<div class="t" style="left:78.5px;top:833.5px;line-height:17.5px">Связь и ИТ</div>
<div class="t r" style="left:407px;top:833.5px;width:86.8px">-</div>
<div class="t r" style="left:497px;top:833.5px;width:87.3px">5 700</div>
<div class="t r" style="left:587.5px;top:833.5px;width:102.3px">(5 700)</div>
<div class="t r" style="left:693px;top:833.5px;width:86.8px">-</div>
<div class="t r" style="left:783px;top:833.5px;width:86.8px">15 456</div>
<div class="t r" style="left:873px;top:833.5px;width:102.8px">(15 456)</div>
<div class="t r" style="left:979px;top:833.5px;width:86.8px">-</div>
<div class="t r" style="left:1069px;top:833.5px;width:87.3px">8 500</div>
<div class="t r" style="left:1159.5px;top:833.5px;width:102.3px">(8 500)</div>
<div class="t r" style="left:1265px;top:833.5px;width:95.3px">-</div>
<div class="t r" style="left:1363.5px;top:833.5px;width:96.3px">29 656</div>
<div class="t r" style="left:1463px;top:833.5px;width:102.3px">(29 656)</div>
<div class="t" style="left:98.5px;top:851px;line-height:17.5px">Телефония, мобильная связь</div>
<div class="t r" style="left:407px;top:851px;width:86.8px">-</div>
<div class="t r" style="left:497px;top:851px;width:87.3px">5 700</div>
<div class="t r" style="left:587.5px;top:851px;width:102.3px">-</div>
<div class="t r" style="left:693px;top:851px;width:86.8px">-</div>
<div class="t r" style="left:783px;top:851px;width:86.8px">15 456</div>
<div class="t r" style="left:873px;top:851px;width:102.8px">-</div>
<div class="t r" style="left:979px;top:851px;width:86.8px">-</div>
<div class="t r" style="left:1069px;top:851px;width:87.3px">8 500</div>
<div class="t r" style="left:1159.5px;top:851px;width:102.3px">-</div>
<div class="t r" style="left:1265px;top:851px;width:95.3px">-</div>
<div class="t r" style="left:1363.5px;top:851px;width:96.3px">29 656</div>
<div class="t r" style="left:1463px;top:851px;width:102.3px">-</div>
<div class="t" style="left:78.5px;top:868.5px;line-height:17.5px">Банк и касса</div>
<div class="t r" style="left:407px;top:868.5px;width:86.8px">-</div>
<div class="t r" style="left:497px;top:868.5px;width:87.3px">2 388</div>
<div class="t r" style="left:587.5px;top:868.5px;width:102.3px">(2 388)</div>
<div class="t r" style="left:693px;top:868.5px;width:86.8px">-</div>
<div class="t r" style="left:783px;top:868.5px;width:86.8px">2 388</div>
<div class="t r" style="left:873px;top:868.5px;width:102.8px">(2 388)</div>
<div class="t r" style="left:979px;top:868.5px;width:86.8px">-</div>
<div class="t r" style="left:1069px;top:868.5px;width:87.3px">2 388</div>
<div class="t r" style="left:1159.5px;top:868.5px;width:102.3px">(2 388)</div>
<div class="t r" style="left:1265px;top:868.5px;width:95.3px">-</div>
<div class="t r" style="left:1363.5px;top:868.5px;width:96.3px">7 164</div>
<div class="t r" style="left:1463px;top:868.5px;width:102.3px">(7 164)</div>
<div class="t" style="left:98.5px;top:886px;line-height:17.5px">РКО</div>
<div class="t r" style="left:407px;top:886px;width:86.8px">-</div>
<div class="t r" style="left:497px;top:886px;width:87.3px">2 388</div>
<div class="t r" style="left:587.5px;top:886px;width:102.3px">-</div>
<div class="t r" style="left:693px;top:886px;width:86.8px">-</div>
<div class="t r" style="left:783px;top:886px;width:86.8px">2 388</div>
<div class="t r" style="left:873px;top:886px;width:102.8px">-</div>
<div class="t r" style="left:979px;top:886px;width:86.8px">-</div>
<div class="t r" style="left:1069px;top:886px;width:87.3px">2 388</div>
<div class="t r" style="left:1159.5px;top:886px;width:102.3px">-</div>
<div class="t r" style="left:1265px;top:886px;width:95.3px">-</div>
<div class="t r" style="left:1363.5px;top:886px;width:96.3px">7 164</div>
<div class="t r" style="left:1463px;top:886px;width:102.3px">-</div>
<div class="t" style="left:78.5px;top:903.5px;line-height:17.5px">Прочие АУП расходы</div>
<div class="t r" style="left:407px;top:903.5px;width:86.8px">-</div>
<div class="t r" style="left:497px;top:903.5px;width:87.3px">8 738</div>
<div class="t r" style="left:587.5px;top:903.5px;width:102.3px">-</div>
<div class="t r" style="left:873px;top:903.5px;width:102.8px">-</div>
<div class="t r" style="left:1159.5px;top:903.5px;width:102.3px">-</div>
<div class="t r" style="left:1265px;top:903.5px;width:95.3px">-</div>
<div class="t r" style="left:1363.5px;top:903.5px;width:96.3px">8 738</div>
<div class="t r" style="left:1463px;top:903.5px;width:102.3px">-</div>
<div class="t" style="left:58.5px;top:921px;line-height:17.5px">НАЛОГИ</div>
<div class="t r" style="left:407px;top:921px;width:86.8px">-</div>
<div class="t r" style="left:497px;top:921px;width:87.3px">4 472</div>
<div class="t r" style="left:587.5px;top:921px;width:102.3px">(4 472)</div>
<div class="t r" style="left:693px;top:921px;width:86.8px">-</div>
<div class="t r" style="left:783px;top:921px;width:86.8px">25 027</div>
<div class="t r" style="left:873px;top:921px;width:102.8px">(25 027)</div>
<div class="t r" style="left:979px;top:921px;width:86.8px">-</div>
<div class="t r" style="left:1069px;top:921px;width:87.3px">4 472</div>
<div class="t r" style="left:1159.5px;top:921px;width:102.3px">(4 472)</div>
<div class="t r" style="left:1265px;top:921px;width:95.3px">-</div>
<div class="t r" style="left:1363.5px;top:921px;width:96.3px">33 970</div>
<div class="t r" style="left:1463px;top:921px;width:102.3px">(33 970)</div>
<div class="t" style="left:78.5px;top:938.5px;line-height:17.5px">УСН</div>
<div class="t r" style="left:587.5px;top:938.5px;width:102.3px">-</div>
<div class="t r" style="left:693px;top:938.5px;width:86.8px">-</div>
<div class="t r" style="left:783px;top:938.5px;width:86.8px">20 555</div>
<div class="t r" style="left:873px;top:938.5px;width:102.8px">-</div>
<div class="t r" style="left:1159.5px;top:938.5px;width:102.3px">-</div>
<div class="t r" style="left:1265px;top:938.5px;width:95.3px">-</div>
<div class="t r" style="left:1363.5px;top:938.5px;width:96.3px">20 555</div>
<div class="t r" style="left:1463px;top:938.5px;width:102.3px">-</div>
<div class="t" style="left:78.5px;top:956px;line-height:17.5px">Страховые взносы ИП</div>
<div class="t r" style="left:407px;top:956px;width:86.8px">-</div>
<div class="t r" style="left:497px;top:956px;width:87.3px">4 472</div>
<div class="t r" style="left:587.5px;top:956px;width:102.3px">-</div>
<div class="t r" style="left:693px;top:956px;width:86.8px">-</div>
<div class="t r" style="left:783px;top:956px;width:86.8px">4 472</div>
<div class="t r" style="left:873px;top:956px;width:102.8px">-</div>
<div class="t r" style="left:979px;top:956px;width:86.8px">-</div>
<div class="t r" style="left:1069px;top:956px;width:87.3px">4 472</div>
<div class="t r" style="left:1159.5px;top:956px;width:102.3px">-</div>
<div class="t r" style="left:1265px;top:956px;width:95.3px">-</div>
<div class="t r" style="left:1363.5px;top:956px;width:96.3px">13 415</div>
<div class="t r" style="left:1463px;top:956px;width:102.3px">-</div>
<div class="t" style="left:58.5px;top:973.5px;line-height:17.5px">РАСХОДЫ НА ПРОДАЖУ</div>
<div class="t r" style="left:407px;top:973.5px;width:86.8px">-</div>
<div class="t r" style="left:497px;top:973.5px;width:87.3px">277 910</div>
<div class="t r" style="left:587.5px;top:973.5px;width:102.3px">(277 910)</div>
<div class="t r" style="left:693px;top:973.5px;width:86.8px">-</div>
<div class="t r" style="left:783px;top:973.5px;width:86.8px">244 901</div>
<div class="t r" style="left:873px;top:973.5px;width:102.8px">(244 901)</div>
<div class="t r" style="left:979px;top:973.5px;width:86.8px">-</div>
<div class="t r" style="left:1069px;top:973.5px;width:87.3px">279 963</div>
<div class="t r" style="left:1159.5px;top:973.5px;width:102.3px">(279 963)</div>
<div class="t r" style="left:1265px;top:973.5px;width:95.3px">-</div>
<div class="t r" style="left:1363.5px;top:973.5px;width:96.3px">802 773</div>
<div class="t r" style="left:1463px;top:973.5px;width:102.3px">(802 773)</div>
<div class="t" style="left:78.5px;top:991px;line-height:17.5px">Реклама и маркетинг</div>
<div class="t r" style="left:407px;top:991px;width:86.8px">-</div>
<div class="t r" style="left:497px;top:991px;width:87.3px">122 762</div>
<div class="t r" style="left:587.5px;top:991px;width:102.3px">(122 762)</div>
<div class="t r" style="left:693px;top:991px;width:86.8px">-</div>
<div class="t r" style="left:783px;top:991px;width:86.8px">139 301</div>
<div class="t r" style="left:873px;top:991px;width:102.8px">(139 301)</div>
<div class="t r" style="left:979px;top:991px;width:86.8px">-</div>
<div class="t r" style="left:1069px;top:991px;width:87.3px">174 723</div>
<div class="t r" style="left:1159.5px;top:991px;width:102.3px">(174 723)</div>
<div class="t r" style="left:1265px;top:991px;width:95.3px">-</div>
<div class="t r" style="left:1363.5px;top:991px;width:96.3px">436 785</div>
<div class="t r" style="left:1463px;top:991px;width:102.3px">(436 785)</div>
<div class="t" style="left:98.5px;top:1008.5px;line-height:17.5px">Реклама ВК</div>
<div class="t r" style="left:407px;top:1008.5px;width:86.8px">-</div>
<div class="t r" style="left:497px;top:1008.5px;width:87.3px">2 400</div>
<div class="t r" style="left:587.5px;top:1008.5px;width:102.3px">-</div>
<div class="t r" style="left:693px;top:1008.5px;width:86.8px">-</div>
<div class="t r" style="left:783px;top:1008.5px;width:86.8px">10 200</div>
<div class="t r" style="left:873px;top:1008.5px;width:102.8px">-</div>
<div class="t r" style="left:979px;top:1008.5px;width:86.8px">-</div>
<div class="t r" style="left:1069px;top:1008.5px;width:87.3px">13 200</div>
<div class="t r" style="left:1159.5px;top:1008.5px;width:102.3px">-</div>
<div class="t r" style="left:1265px;top:1008.5px;width:95.3px">-</div>
<div class="t r" style="left:1363.5px;top:1008.5px;width:96.3px">25 800</div>
<div class="t r" style="left:1463px;top:1008.5px;width:102.3px">-</div>
<div class="t" style="left:98.5px;top:1026px;line-height:17.5px">Реклама Авито</div>
<div class="t r" style="left:407px;top:1026px;width:86.8px">-</div>
<div class="t r" style="left:497px;top:1026px;width:87.3px">86 000</div>
<div class="t r" style="left:587.5px;top:1026px;width:102.3px">-</div>
<div class="t r" style="left:693px;top:1026px;width:86.8px">-</div>
<div class="t r" style="left:783px;top:1026px;width:86.8px">76 400</div>
<div class="t r" style="left:873px;top:1026px;width:102.8px">-</div>
<div class="t r" style="left:979px;top:1026px;width:86.8px">-</div>
<div class="t r" style="left:1069px;top:1026px;width:87.3px">60 200</div>
<div class="t r" style="left:1159.5px;top:1026px;width:102.3px">-</div>
<div class="t r" style="left:1265px;top:1026px;width:95.3px">-</div>
<div class="t r" style="left:1363.5px;top:1026px;width:96.3px">222 600</div>
<div class="t r" style="left:1463px;top:1026px;width:102.3px">-</div>
<div class="t" style="left:98.5px;top:1043.5px;line-height:17.5px">Аренда выставочных экземпляров</div>
<div class="t r" style="left:407px;top:1043.5px;width:86.8px">-</div>
<div class="t r" style="left:497px;top:1043.5px;width:87.3px">15 078</div>
<div class="t r" style="left:587.5px;top:1043.5px;width:102.3px">-</div>
<div class="t r" style="left:693px;top:1043.5px;width:86.8px">-</div>
<div class="t r" style="left:783px;top:1043.5px;width:86.8px">27 078</div>
<div class="t r" style="left:873px;top:1043.5px;width:102.8px">-</div>
<div class="t r" style="left:979px;top:1043.5px;width:86.8px">-</div>
<div class="t r" style="left:1069px;top:1043.5px;width:87.3px">24 000</div>
<div class="t r" style="left:1159.5px;top:1043.5px;width:102.3px">-</div>
<div class="t r" style="left:1265px;top:1043.5px;width:95.3px">-</div>
<div class="t r" style="left:1363.5px;top:1043.5px;width:96.3px">66 155</div>
<div class="t r" style="left:1463px;top:1043.5px;width:102.3px">-</div>
<div class="t" style="left:98.5px;top:1061px;line-height:17.5px">Реклама</div>
<div class="t r" style="left:587.5px;top:1061px;width:102.3px">-</div>
<div class="t r" style="left:693px;top:1061px;width:86.8px">-</div>
<div class="t r" style="left:783px;top:1061px;width:86.8px">13 224</div>
<div class="t r" style="left:873px;top:1061px;width:102.8px">-</div>
<div class="t r" style="left:979px;top:1061px;width:86.8px">-</div>
<div class="t r" style="left:1069px;top:1061px;width:87.3px">25 323</div>
<div class="t r" style="left:1159.5px;top:1061px;width:102.3px">-</div>
<div class="t r" style="left:1265px;top:1061px;width:95.3px">-</div>
<div class="t r" style="left:1363.5px;top:1061px;width:96.3px">38 547</div>
<div class="t r" style="left:1463px;top:1061px;width:102.3px">-</div>
</body></html>
